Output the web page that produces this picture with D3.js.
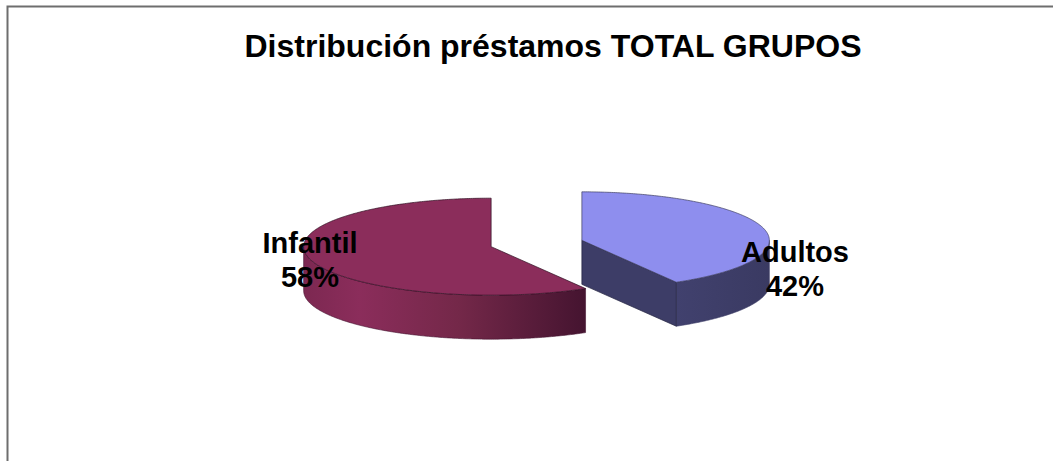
<!DOCTYPE html>
<html>
  <head>
    <meta charset="utf-8">
    <title>Distribución préstamos TOTAL GRUPOS</title>
    <style>
      html, body { margin: 0; padding: 0; background: #fff; overflow: hidden; }
      text { font-family: "Liberation Sans", Arial, sans-serif; font-weight: bold; fill: #000; }
    </style>
    <script src="https://cdn.jsdelivr.net/npm/d3@7"></script>
  </head>
  <body>
    <div id="chart"></div>
    <script>
      var title = "Distribución préstamos TOTAL GRUPOS";
      var categories = ["Adultos", "Infantil"];
      var shares = [41.6, 58.4];

      var w = 1053, h = 461;
      var cx = 536.5, cy = 243.5;   // pie centre before exploding
      var rx = 187.5, ry = 48.5;    // ellipse of the tilted top
      var depth = 44, explode = 47;
      var PI = Math.PI, TAU = 2 * PI;

      var svg = d3.select("#chart").append("svg")
        .attr("width", w)
        .attr("height", h)
        .style("display", "block");

      var defs = svg.append("defs");

      // rim shading of the red slice, dark towards the cut
      var grad = defs.append("linearGradient")
        .attr("id", "rimInfantil")
        .attr("gradientUnits", "userSpaceOnUse")
        .attr("x1", 303).attr("x2", 585).attr("y1", 0).attr("y2", 0);
      grad.append("stop").attr("offset", 0).attr("stop-color", "#7c2851");
      grad.append("stop").attr("offset", 0.2).attr("stop-color", "#8b2d5b");
      grad.append("stop").attr("offset", 0.55).attr("stop-color", "#742849");
      grad.append("stop").attr("offset", 1).attr("stop-color", "#451430");

      var gradB = defs.append("linearGradient")
        .attr("id", "rimAdultos")
        .attr("gradientUnits", "userSpaceOnUse")
        .attr("x1", 676).attr("x2", 769).attr("y1", 0).attr("y2", 0);
      gradB.append("stop").attr("offset", 0).attr("stop-color", "#41416e");
      gradB.append("stop").attr("offset", 1).attr("stop-color", "#3a3a62");

      var topColor = ["#8e8eee", "#8b2d5b"];
      var cutColor = ["#3d3d67", "#451430"];
      var rimFill = ["url(#rimAdultos)", "url(#rimInfantil)"];

      // chart frame, only top and left are inside the picture
      svg.append("path")
        .attr("d", "M7.5," + h + "V6.5H" + w)
        .attr("fill", "none")
        .attr("stroke", "#6e6e6e")
        .attr("stroke-width", 2);

      svg.append("text")
        .attr("x", 553)
        .attr("y", 57)
        .attr("text-anchor", "middle")
        .style("font-size", "32px")
        .text(title);

      var pie = d3.pie().sort(null).startAngle(0).endAngle(TAU);
      var arcs = pie(shares);

      var line = d3.line();

      // angle is clockwise from the top, like d3.pie
      function point(a, ox, oy, drop) {
        return [ox + rx * Math.sin(a), oy - ry * Math.cos(a) + (drop || 0)];
      }

      function arcPoints(a0, a1, ox, oy, drop) {
        var n = Math.max(2, Math.ceil(Math.abs(a1 - a0) / 0.01));
        return d3.range(n + 1).map(function(i) {
          return point(a0 + (a1 - a0) * i / n, ox, oy, drop);
        });
      }

      var order = [1, 0];
      order.forEach(function(i) {
        var d = arcs[i];
        var mid = (d.startAngle + d.endAngle) / 2;
        var ox = cx + explode * Math.sin(mid);
        var oy = cy - explode * (ry / rx) * Math.cos(mid);
        var g = svg.append("g");

        // front rim, the part of the slice between 90 and 270 degrees
        var r0 = Math.max(d.startAngle, PI / 2);
        var r1 = Math.min(d.endAngle, 3 * PI / 2);
        var rim = arcPoints(r0, r1, ox, oy, 0).concat(arcPoints(r1, r0, ox, oy, depth));
        g.append("path")
          .attr("d", line(rim) + "Z")
          .attr("fill", rimFill[i])
          .attr("stroke", cutColor[i])
          .attr("stroke-width", 0.6);

        // cut face, only seen when the slice ends in the front right
        if (d.endAngle < PI) {
          var e = point(d.endAngle, ox, oy, 0);
          var wall = [[ox, oy], e, [e[0], e[1] + depth], [ox, oy + depth]];
          g.append("path")
            .attr("d", line(wall) + "Z")
            .attr("fill", cutColor[i])
            .attr("stroke", "#23233f")
            .attr("stroke-width", 0.7);
        }

        var face = [[ox, oy]].concat(arcPoints(d.startAngle, d.endAngle, ox, oy, 0));
        g.append("path")
          .attr("d", line(face) + "Z")
          .attr("fill", topColor[i])
          .attr("stroke", i === 0 ? "#3f3f60" : "#2f1022")
          .attr("stroke-width", 0.7);
      });

      var labelAt = [[795, 262], [310, 253]];
      categories.forEach(function(c, i) {
        var t = svg.append("text")
          .attr("text-anchor", "middle")
          .attr("x", labelAt[i][0])
          .attr("y", labelAt[i][1])
          .style("font-size", "29px");
        t.append("tspan").text(c);
        t.append("tspan")
          .attr("x", labelAt[i][0])
          .attr("dy", 33.5)
          .text(d3.format(".0f")(shares[i]) + "%");
      });
    </script>
  </body>
</html>
